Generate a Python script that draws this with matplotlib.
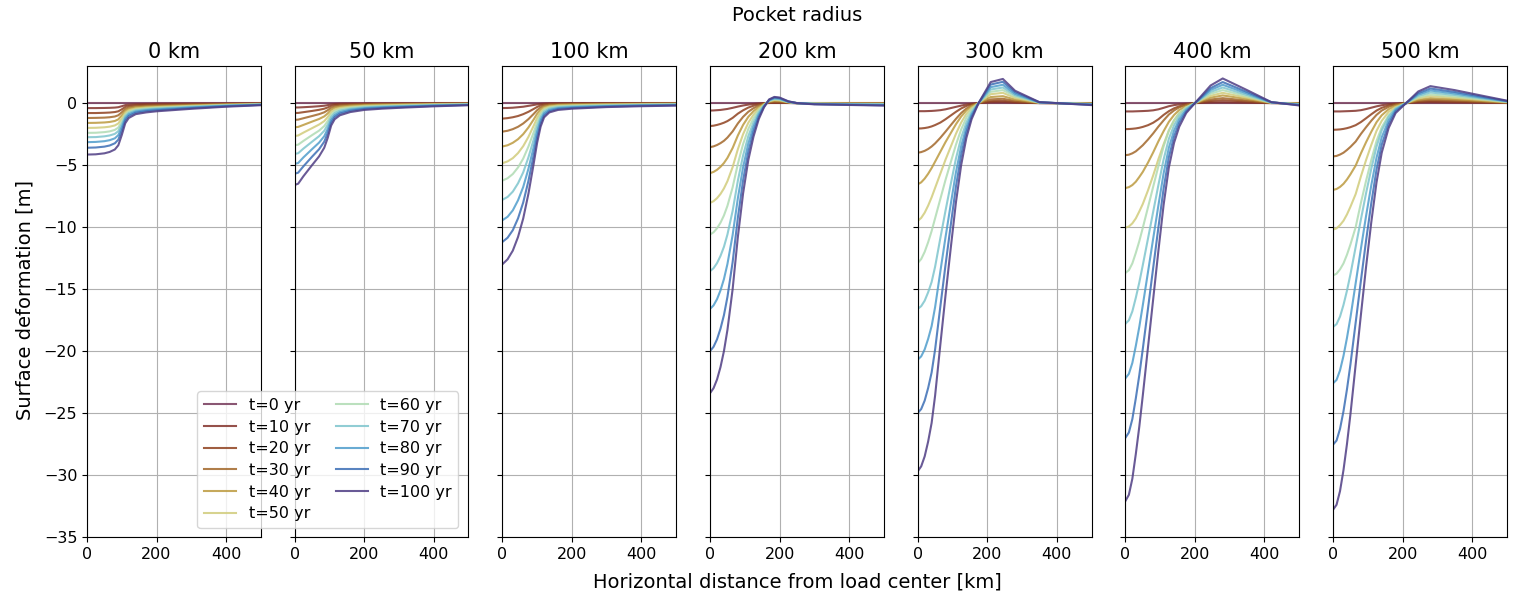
import numpy as np
import matplotlib
matplotlib.use("Agg")
import matplotlib.pyplot as plt

# pocket radius panels and time steps
radii = ["0 km", "50 km", "100 km", "200 km", "300 km", "400 km", "500 km"]
times = [0, 10, 20, 30, 40, 50, 60, 70, 80, 90, 100]
colors = ["#76395a", "#83332b", "#8f4220", "#a2672a", "#bc9a3f", "#d1cc7b",
          "#b0dbb3", "#7ec5cd", "#4f9dcc", "#3c6eb5", "#4f3d84"]

# distance grids [km] and surface deformation [m], one row per time step
x_0 = [0, 25, 50, 65, 80, 90, 100, 110, 120, 140, 170, 200, 250, 300, 400, 500]
d_0 = [
    [0.0] * 16,
    [-0.40, -0.40, -0.39, -0.38, -0.36, -0.33, -0.25, -0.16, -0.12, -0.09, -0.07, -0.06, -0.05, -0.04, -0.03, -0.02],
    [-0.80, -0.80, -0.78, -0.76, -0.72, -0.66, -0.50, -0.31, -0.23, -0.17, -0.14, -0.13, -0.11, -0.09, -0.06, -0.03],
    [-1.20, -1.19, -1.17, -1.14, -1.08, -0.98, -0.74, -0.47, -0.35, -0.26, -0.22, -0.19, -0.16, -0.13, -0.08, -0.05],
    [-1.60, -1.59, -1.56, -1.52, -1.44, -1.31, -0.99, -0.62, -0.46, -0.34, -0.29, -0.26, -0.22, -0.18, -0.11, -0.06],
    [-2.00, -1.99, -1.95, -1.90, -1.80, -1.64, -1.24, -0.78, -0.58, -0.43, -0.36, -0.32, -0.27, -0.22, -0.14, -0.08],
    [-2.40, -2.39, -2.34, -2.28, -2.16, -1.97, -1.49, -0.94, -0.70, -0.52, -0.43, -0.38, -0.32, -0.26, -0.17, -0.10],
    [-2.75, -2.74, -2.68, -2.61, -2.48, -2.26, -1.71, -1.07, -0.80, -0.59, -0.50, -0.44, -0.37, -0.30, -0.19, -0.11],
    [-3.15, -3.13, -3.07, -2.99, -2.84, -2.58, -1.95, -1.23, -0.91, -0.68, -0.57, -0.50, -0.43, -0.35, -0.22, -0.13],
    [-3.60, -3.58, -3.51, -3.42, -3.24, -2.95, -2.23, -1.40, -1.04, -0.77, -0.65, -0.58, -0.49, -0.40, -0.25, -0.14],
    [-4.15, -4.13, -4.05, -3.94, -3.74, -3.40, -2.57, -1.62, -1.20, -0.89, -0.75, -0.66, -0.56, -0.46, -0.29, -0.17],
]

x_50 = [0, 10, 25, 50, 70, 85, 95, 105, 115, 130, 160, 200, 250, 300, 400, 500]
d_50 = [
    [0.0] * 16,
    [-0.35, -0.35, -0.33, -0.29, -0.25, -0.21, -0.16, -0.10, -0.07, -0.05, -0.04, -0.03, -0.03, -0.02, -0.02, -0.01],
    [-0.80, -0.79, -0.73, -0.63, -0.54, -0.45, -0.35, -0.22, -0.16, -0.12, -0.09, -0.07, -0.06, -0.05, -0.03, -0.02],
    [-1.35, -1.33, -1.22, -1.04, -0.89, -0.74, -0.57, -0.37, -0.27, -0.20, -0.15, -0.11, -0.09, -0.08, -0.05, -0.04],
    [-1.95, -1.92, -1.76, -1.49, -1.28, -1.07, -0.83, -0.53, -0.38, -0.29, -0.21, -0.16, -0.13, -0.11, -0.08, -0.05],
    [-2.65, -2.61, -2.38, -2.02, -1.73, -1.45, -1.12, -0.72, -0.52, -0.39, -0.29, -0.22, -0.18, -0.15, -0.10, -0.07],
    [-3.40, -3.35, -3.05, -2.58, -2.22, -1.85, -1.44, -0.93, -0.67, -0.50, -0.37, -0.28, -0.23, -0.20, -0.13, -0.09],
    [-4.10, -4.04, -3.67, -3.11, -2.67, -2.23, -1.74, -1.12, -0.81, -0.61, -0.45, -0.34, -0.28, -0.24, -0.16, -0.11],
    [-4.90, -4.83, -4.38, -3.71, -3.19, -2.67, -2.08, -1.34, -0.97, -0.73, -0.53, -0.41, -0.33, -0.28, -0.19, -0.13],
    [-5.70, -5.61, -5.10, -4.32, -3.72, -3.11, -2.42, -1.56, -1.12, -0.84, -0.62, -0.47, -0.39, -0.33, -0.22, -0.15],
    [-6.60, -6.50, -5.90, -5.00, -4.30, -3.60, -2.80, -1.80, -1.30, -0.98, -0.72, -0.55, -0.45, -0.38, -0.26, -0.17],
]

x_100 = [0, 15, 30, 45, 60, 75, 90, 100, 110, 120, 135, 160, 200, 300, 400, 500]
d_100 = [
    [0.0] * 16,
    [-0.40, -0.39, -0.37, -0.33, -0.29, -0.22, -0.15, -0.10, -0.06, -0.04, -0.02, -0.02, -0.01, -0.01, -0.01, -0.01],
    [-1.25, -1.21, -1.14, -1.04, -0.89, -0.70, -0.47, -0.31, -0.18, -0.11, -0.07, -0.05, -0.04, -0.03, -0.02, -0.02],
    [-2.30, -2.23, -2.10, -1.91, -1.64, -1.29, -0.87, -0.57, -0.34, -0.20, -0.13, -0.10, -0.08, -0.06, -0.04, -0.03],
    [-3.50, -3.40, -3.20, -2.91, -2.50, -1.96, -1.32, -0.86, -0.51, -0.31, -0.20, -0.15, -0.12, -0.09, -0.07, -0.05],
    [-4.85, -4.70, -4.44, -4.03, -3.47, -2.72, -1.83, -1.19, -0.71, -0.43, -0.28, -0.20, -0.17, -0.12, -0.09, -0.07],
    [-6.25, -6.06, -5.72, -5.19, -4.47, -3.50, -2.36, -1.54, -0.91, -0.55, -0.36, -0.26, -0.22, -0.16, -0.12, -0.09],
    [-7.80, -7.57, -7.14, -6.47, -5.58, -4.37, -2.94, -1.92, -1.14, -0.69, -0.45, -0.33, -0.27, -0.20, -0.15, -0.12],
    [-9.45, -9.17, -8.65, -7.84, -6.76, -5.29, -3.56, -2.32, -1.38, -0.83, -0.55, -0.40, -0.33, -0.24, -0.18, -0.14],
    [-11.20, -10.86, -10.25, -9.30, -8.01, -6.27, -4.22, -2.76, -1.64, -0.99, -0.65, -0.47, -0.39, -0.28, -0.21, -0.17],
    [-13.00, -12.60, -11.90, -10.80, -9.30, -7.30, -4.90, -3.20, -1.90, -1.15, -0.75, -0.55, -0.45, -0.32, -0.25, -0.20],
]

x_200 = [0, 10, 20, 30, 40, 50, 65, 80, 95, 110, 125, 140, 155, 170, 185, 200, 225, 250, 300, 400, 500]
d_200 = [
    [0.0] * 21,
    [-0.60, -0.59, -0.57, -0.55, -0.51, -0.47, -0.38, -0.28, -0.19, -0.12, -0.07, -0.03, -0.01, 0.01, 0.02, 0.02, 0.01, 0.0, -0.01, -0.01, -0.01],
    [-1.85, -1.82, -1.76, -1.68, -1.58, -1.45, -1.19, -0.85, -0.58, -0.36, -0.21, -0.10, -0.03, 0.03, 0.05, 0.05, 0.02, 0.0, 0.0, 0.0, 0.0],
    [-3.55, -3.49, -3.38, -3.23, -3.04, -2.78, -2.28, -1.64, -1.11, -0.70, -0.41, -0.20, -0.05, 0.07, 0.12, 0.11, 0.04, 0.0, -0.01, -0.02, -0.02],
    [-5.65, -5.55, -5.38, -5.14, -4.83, -4.42, -3.62, -2.61, -1.76, -1.11, -0.65, -0.32, -0.08, 0.12, 0.20, 0.18, 0.06, 0.0, -0.02, -0.03, -0.04],
    [-8.05, -7.91, -7.67, -7.33, -6.88, -6.30, -5.16, -3.72, -2.51, -1.59, -0.93, -0.45, -0.12, 0.15, 0.25, 0.23, 0.08, 0.0, -0.03, -0.05, -0.06],
    [-10.60, -10.42, -10.10, -9.65, -9.06, -8.29, -6.79, -4.90, -3.31, -2.09, -1.22, -0.59, -0.16, 0.18, 0.30, 0.27, 0.09, 0.0, -0.04, -0.07, -0.08],
    [-13.55, -13.32, -12.91, -12.33, -11.59, -10.60, -8.69, -6.26, -4.23, -2.67, -1.56, -0.76, -0.20, 0.21, 0.35, 0.32, 0.10, 0.0, -0.05, -0.09, -0.11],
    [-16.60, -16.32, -15.82, -15.11, -14.19, -12.98, -10.64, -7.67, -5.18, -3.27, -1.91, -0.93, -0.25, 0.24, 0.40, 0.36, 0.12, 0.0, -0.07, -0.11, -0.14],
    [-20.00, -19.66, -19.06, -18.20, -17.10, -15.64, -12.82, -9.24, -6.24, -3.94, -2.30, -1.12, -0.30, 0.27, 0.45, 0.41, 0.13, 0.0, -0.08, -0.13, -0.17],
    [-23.40, -23.00, -22.30, -21.30, -20.00, -18.30, -15.00, -10.80, -7.30, -4.60, -2.70, -1.30, -0.35, 0.30, 0.50, 0.45, 0.15, 0.0, -0.10, -0.15, -0.20],
]

x_300 = [0, 10, 20, 30, 40, 50, 65, 80, 95, 110, 125, 140, 155, 175, 210, 245, 280, 350, 400, 450, 500]
d_300 = [
    [0.0] * 21,
    [-0.65, -0.65, -0.65, -0.64, -0.63, -0.61, -0.57, -0.50, -0.40, -0.30, -0.20, -0.11, -0.05, 0.0, 0.07, 0.08, 0.04, 0.0, 0.0, 0.0, 0.0],
    [-2.05, -2.04, -2.01, -1.96, -1.88, -1.77, -1.57, -1.30, -1.00, -0.70, -0.43, -0.23, -0.10, 0.0, 0.16, 0.19, 0.10, 0.01, 0.0, -0.01, -0.01],
    [-4.00, -3.95, -3.85, -3.70, -3.50, -3.25, -2.80, -2.30, -1.78, -1.27, -0.80, -0.44, -0.19, 0.0, 0.30, 0.35, 0.18, 0.01, 0.0, -0.01, -0.02],
    [-6.55, -6.39, -6.09, -5.70, -5.24, -4.72, -3.93, -3.14, -2.42, -1.70, -1.08, -0.59, -0.26, 0.0, 0.49, 0.56, 0.29, 0.02, 0.0, -0.02, -0.04],
    [-9.50, -9.26, -8.84, -8.27, -7.60, -6.84, -5.70, -4.56, -3.52, -2.47, -1.57, -0.86, -0.38, 0.0, 0.72, 0.83, 0.42, 0.03, 0.0, -0.03, -0.05],
    [-12.90, -12.58, -12.00, -11.22, -10.32, -9.29, -7.74, -6.19, -4.77, -3.35, -2.13, -1.16, -0.52, 0.0, 0.91, 1.05, 0.54, 0.04, 0.0, -0.03, -0.07],
    [-16.60, -16.38, -15.94, -15.26, -14.43, -13.20, -10.91, -8.67, -6.54, -4.47, -2.79, -1.56, -0.73, 0.0, 1.10, 1.26, 0.64, 0.05, 0.0, -0.04, -0.09],
    [-20.70, -20.43, -19.87, -19.02, -17.99, -16.46, -13.60, -10.81, -8.16, -5.57, -3.48, -1.95, -0.91, 0.0, 1.29, 1.48, 0.75, 0.06, 0.0, -0.06, -0.11],
    [-25.00, -24.68, -24.00, -22.98, -21.73, -19.88, -16.43, -13.05, -9.85, -6.73, -4.20, -2.35, -1.10, 0.0, 1.50, 1.72, 0.88, 0.07, 0.0, -0.07, -0.13],
    [-29.70, -29.30, -28.50, -27.30, -25.80, -23.60, -19.50, -15.50, -11.70, -8.00, -5.00, -2.80, -1.30, 0.0, 1.70, 1.95, 1.00, 0.08, 0.0, -0.08, -0.16],
]

x_400 = [0, 10, 20, 30, 40, 50, 65, 80, 95, 110, 125, 140, 155, 175, 200, 245, 280, 350, 420, 500]
d_400 = [
    [0.0] * 20,
    [-0.67, -0.67, -0.67, -0.66, -0.65, -0.64, -0.62, -0.58, -0.50, -0.38, -0.25, -0.16, -0.10, -0.05, 0.0, 0.06, 0.08, 0.04, 0.0, -0.01],
    [-2.10, -2.09, -2.07, -2.04, -1.99, -1.92, -1.78, -1.58, -1.30, -0.95, -0.65, -0.42, -0.26, -0.12, 0.0, 0.17, 0.24, 0.13, 0.01, -0.01],
    [-4.20, -4.16, -4.05, -3.89, -3.65, -3.40, -2.94, -2.44, -1.89, -1.39, -0.92, -0.59, -0.34, -0.15, 0.0, 0.29, 0.40, 0.21, 0.02, -0.02],
    [-6.85, -6.78, -6.61, -6.34, -5.96, -5.55, -4.80, -3.97, -3.08, -2.26, -1.51, -0.96, -0.55, -0.24, 0.0, 0.44, 0.62, 0.33, 0.02, -0.04],
    [-10.05, -9.95, -9.70, -9.30, -8.74, -8.14, -7.04, -5.83, -4.52, -3.32, -2.21, -1.41, -0.80, -0.35, 0.0, 0.59, 0.83, 0.44, 0.03, -0.06],
    [-13.70, -13.48, -12.93, -12.08, -11.14, -10.07, -8.41, -6.74, -5.08, -3.49, -2.22, -1.37, -0.81, -0.34, 0.0, 0.75, 1.05, 0.55, 0.04, -0.08],
    [-17.80, -17.52, -16.80, -15.70, -14.47, -13.08, -10.93, -8.76, -6.60, -4.54, -2.88, -1.78, -1.05, -0.45, 0.0, 0.90, 1.26, 0.66, 0.05, -0.11],
    [-22.20, -21.84, -20.96, -19.58, -18.05, -16.32, -13.63, -10.92, -8.24, -5.66, -3.60, -2.22, -1.31, -0.56, 0.0, 1.06, 1.48, 0.78, 0.06, -0.13],
    [-27.00, -26.57, -25.49, -23.81, -21.95, -19.85, -16.58, -13.28, -10.02, -6.89, -4.37, -2.70, -1.59, -0.68, 0.0, 1.21, 1.70, 0.90, 0.07, -0.16],
    [-32.10, -31.60, -30.30, -28.30, -26.10, -23.60, -19.70, -15.80, -11.90, -8.20, -5.20, -3.20, -1.90, -0.80, 0.0, 1.42, 1.99, 1.05, 0.08, -0.19],
]

x_500 = [0, 10, 20, 30, 40, 50, 65, 80, 95, 110, 125, 140, 160, 180, 210, 245, 280, 350, 420, 500]
d_500 = [
    [0.0] * 20,
    [-0.67, -0.67, -0.67, -0.66, -0.65, -0.64, -0.62, -0.57, -0.48, -0.37, -0.26, -0.17, -0.09, -0.04, 0.0, 0.06, 0.08, 0.06, 0.04, 0.01],
    [-2.15, -2.14, -2.12, -2.08, -2.02, -1.94, -1.78, -1.53, -1.22, -0.90, -0.60, -0.38, -0.19, -0.08, 0.0, 0.11, 0.16, 0.12, 0.08, 0.02],
    [-4.30, -4.26, -4.15, -4.00, -3.78, -3.53, -3.10, -2.49, -1.94, -1.42, -0.95, -0.60, -0.30, -0.13, 0.0, 0.19, 0.27, 0.21, 0.13, 0.04],
    [-7.00, -6.93, -6.76, -6.51, -6.16, -5.74, -5.04, -4.06, -3.15, -2.31, -1.54, -0.98, -0.49, -0.21, 0.0, 0.27, 0.40, 0.31, 0.19, 0.06],
    [-10.20, -10.10, -9.84, -9.49, -8.98, -8.36, -7.34, -5.92, -4.59, -3.37, -2.24, -1.43, -0.71, -0.31, 0.0, 0.38, 0.56, 0.43, 0.27, 0.08],
    [-13.90, -13.76, -13.41, -12.93, -12.23, -11.40, -10.01, -8.06, -6.26, -4.59, -3.06, -1.95, -0.97, -0.42, 0.0, 0.48, 0.70, 0.54, 0.33, 0.10],
    [-18.05, -17.83, -17.22, -16.28, -15.13, -13.81, -11.61, -9.40, -7.26, -5.29, -3.52, -2.20, -1.10, -0.43, 0.0, 0.59, 0.86, 0.66, 0.41, 0.13],
    [-22.60, -22.33, -21.56, -20.39, -18.94, -17.29, -14.53, -11.77, -9.09, -6.62, -4.41, -2.76, -1.38, -0.54, 0.0, 0.70, 1.02, 0.78, 0.48, 0.15],
    [-27.55, -27.22, -26.28, -24.85, -23.09, -21.08, -17.71, -14.35, -11.08, -8.07, -5.37, -3.36, -1.68, -0.66, 0.0, 0.81, 1.18, 0.90, 0.56, 0.17],
    [-32.80, -32.40, -31.30, -29.60, -27.50, -25.10, -21.10, -17.10, -13.20, -9.60, -6.40, -4.00, -2.00, -0.80, 0.0, 0.94, 1.37, 1.05, 0.65, 0.20],
]

grids = [x_0, x_50, x_100, x_200, x_300, x_400, x_500]
deforms = [d_0, d_50, d_100, d_200, d_300, d_400, d_500]

fig, axes = plt.subplots(1, 7, figsize=(15.19, 5.94), dpi=100, sharey=True)
fig.subplots_adjust(left=0.0573, right=0.992, top=0.889, bottom=0.096, wspace=0.195)

for ax, title, xg, dd in zip(axes, radii, grids, deforms):
    for t, c, row in zip(times, colors, dd):
        ax.plot(xg, row, color=c, lw=1.5, alpha=0.85, label=f"t={t} yr")
    ax.set_title(title, fontsize=15)
    ax.set_xlim(0, 500)
    ax.set_xticks([0, 200, 400])
    ax.grid(True)
    ax.tick_params(labelsize=11.5)

axes[0].set_ylim(-35, 3)
axes[0].set_yticks(np.arange(-35, 1, 5))

handles, labels = axes[0].get_legend_handles_labels()
fig.legend(handles, labels, loc="lower left", ncol=2, fontsize=11.5,
           bbox_to_anchor=(0.1247, 0.098), columnspacing=1.6, labelspacing=0.42)

# labels centred on the axes block, not the figure
mid = (0.0573 + 0.992) / 2
fig.suptitle("Pocket radius", fontsize=14, x=mid, y=0.99)
fig.supxlabel("Horizontal distance from load center [km]", fontsize=14, x=mid, y=0.005)
fig.supylabel("Surface deformation [m]", fontsize=14, x=0.01, y=0.495)

fig.savefig("out.png", dpi=100)
